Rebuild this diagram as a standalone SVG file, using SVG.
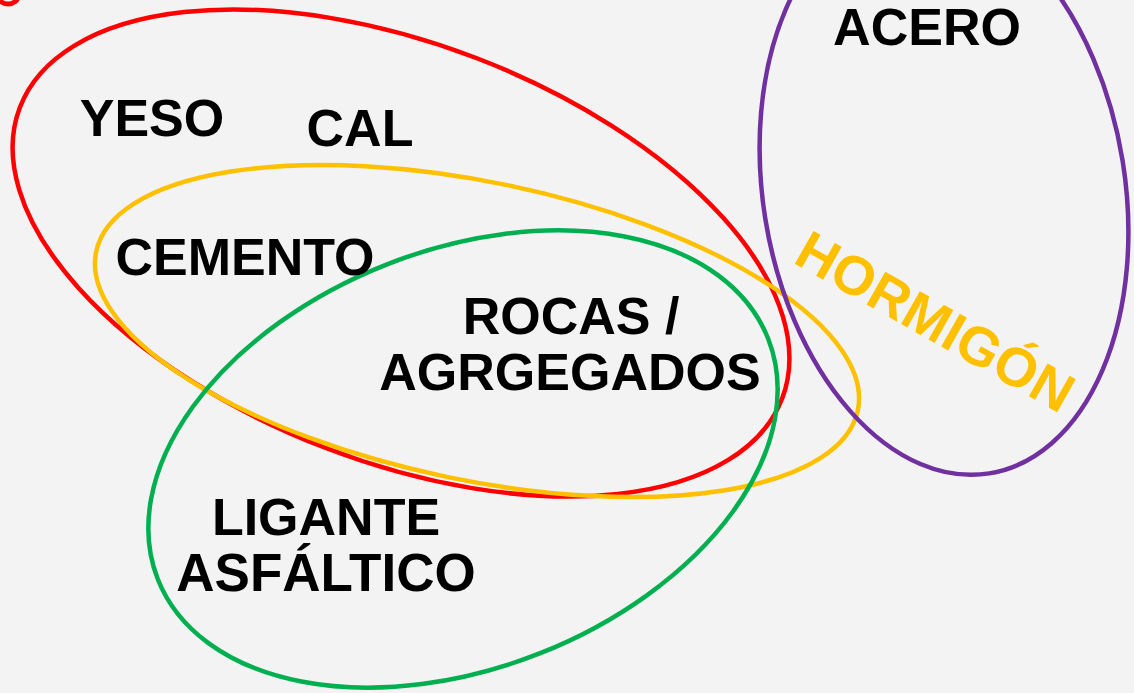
<svg xmlns="http://www.w3.org/2000/svg" width="1134" height="693" viewBox="0 0 1134 693">
<style>
.e{fill:none;stroke-width:4.5}
.t{font-family:"Liberation Sans",Arial,sans-serif;font-weight:bold;font-size:52px;fill:#000;text-anchor:middle}
</style>
<rect width="1134" height="693" fill="#F3F3F3"/>
<g id="corner"><ellipse cx="8" cy="-4" rx="10" ry="8" fill="none" stroke="#FF0000" stroke-width="5"/></g>
<g id="red"><ellipse class="e" stroke="#FF0000" cx="401" cy="253" rx="408" ry="209" transform="rotate(20.9 401 253)"/></g>
<g id="yellow"><ellipse class="e" stroke="#FFC000" cx="477" cy="331" rx="389" ry="149" transform="rotate(11.75 477 331)"/></g>
<g id="green"><ellipse class="e" stroke="#00B050" cx="463" cy="459" rx="328" ry="209" transform="rotate(-21.5 463 459)"/></g>
<g id="purple"><ellipse class="e" stroke="#7030A0" cx="944" cy="190" rx="181" ry="287" transform="rotate(-9.1 944 190)"/></g>
<g id="labels">
<text class="t" x="152" y="136">YESO</text>
<text class="t" x="360" y="146">CAL</text>
<text class="t" x="245" y="275">CEMENTO</text>
<text class="t" x="571" y="334">ROCAS /</text>
<text class="t" x="570" y="390">AGRGEGADOS</text>
<text class="t" x="326" y="535">LIGANTE</text>
<text class="t" x="326" y="591" style="font-size:53px">ASFÁLTICO</text>
<text class="t" x="927" y="45">ACERO</text>
<text class="t" x="0" y="0" style="fill:#FFC000;font-size:55px" transform="translate(926 338) rotate(29.5)">HORMIGÓN</text>
</g>
</svg>
